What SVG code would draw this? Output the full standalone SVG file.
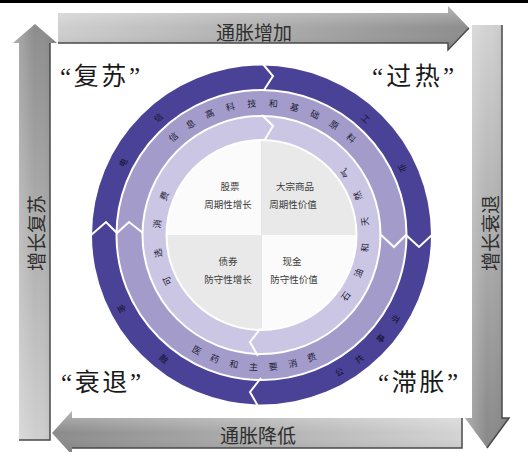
<svg xmlns="http://www.w3.org/2000/svg" width="528" height="452" viewBox="0 0 528 452">
<defs>
<style>
.cjk{font-family:'Noto Sans CJK SC',sans-serif;}
.arrowtxt{font-family:'Noto Sans CJK SC',sans-serif;font-size:19px;fill:#2e2e2e;text-anchor:middle;dominant-baseline:central;}
.corner{font-family:'Liberation Serif','Noto Sans CJK SC',serif;font-size:25px;fill:#1a1a1a;text-anchor:middle;dominant-baseline:central;}
.quad{font-family:'Noto Sans CJK SC',sans-serif;font-size:9.5px;fill:#3a3a3a;text-anchor:middle;}
.rc{font-family:'Noto Sans CJK SC',sans-serif;font-size:9px;fill:#1e1e36;text-anchor:middle;dominant-baseline:central;}
.dc{font-family:'Noto Sans CJK SC',sans-serif;font-size:8.5px;fill:#111128;text-anchor:middle;dominant-baseline:central;}
.brk{fill:none;stroke:#ffffff;stroke-width:2;stroke-linejoin:miter;}
.edge{fill:none;stroke:#4a4a4a;stroke-width:1.5;}
</style>
<linearGradient id="gTop" gradientUnits="userSpaceOnUse" x1="58" y1="0" x2="469" y2="0">
<stop offset="0" stop-color="#cfcfcf"/><stop offset="1" stop-color="#8c8c8c"/>
</linearGradient>
<linearGradient id="gRight" gradientUnits="userSpaceOnUse" x1="0" y1="25" x2="0" y2="448">
<stop offset="0" stop-color="#d2d2d2"/><stop offset="1" stop-color="#888888"/>
</linearGradient>
<linearGradient id="gBottom" gradientUnits="userSpaceOnUse" x1="462" y1="0" x2="52" y2="0">
<stop offset="0" stop-color="#d4d4d4"/><stop offset="1" stop-color="#8a8a8a"/>
</linearGradient>
<linearGradient id="gLeft" gradientUnits="userSpaceOnUse" x1="0" y1="440" x2="0" y2="24">
<stop offset="0" stop-color="#d0d0d0"/><stop offset="1" stop-color="#8c8c8c"/>
</linearGradient>
<linearGradient id="shH" x1="0" y1="0" x2="0" y2="1">
<stop offset="0" stop-color="#ffffff" stop-opacity="0.35"/><stop offset="0.5" stop-color="#ffffff" stop-opacity="0"/><stop offset="1" stop-color="#000000" stop-opacity="0.12"/>
</linearGradient>
<linearGradient id="shV" x1="0" y1="0" x2="1" y2="0">
<stop offset="0" stop-color="#ffffff" stop-opacity="0.3"/><stop offset="0.5" stop-color="#ffffff" stop-opacity="0"/><stop offset="1" stop-color="#000000" stop-opacity="0.12"/>
</linearGradient>
</defs>

<rect x="0" y="0" width="528" height="452" fill="#ffffff"/>
<rect x="0" y="0" width="528" height="3" fill="#000000"/>

<g id="connectors">
<g id="arrow-top">
<path d="M58,13 L448,13 L448,6 L469,28 L448,50 L448,43 L58,43 Z" fill="url(#gTop)"/>
<path d="M58,13 L448,13 L448,6 L469,28 L448,50 L448,43 L58,43 Z" fill="url(#shH)"/>
<polyline class="edge" points="58,43 448,43 448,50 469,28"/>
<text class="arrowtxt" x="254" y="31">通胀增加</text>
</g>
<g id="arrow-right">
<path d="M472,25 L502,25 L502,418 L509,418 L487,448 L465,418 L472,418 Z" fill="url(#gRight)"/>
<path d="M472,25 L502,25 L502,418 L509,418 L487,448 L465,418 L472,418 Z" fill="url(#shV)"/>
<polyline class="edge" points="502,25 502,418 509,418 487,448"/>
<text class="arrowtxt" transform="translate(489,233) rotate(-90)" font-size="20">增长衰退</text>
</g>
<g id="arrow-bottom">
<path d="M462,418 L462,448 L72,448 L72,455 L52,433 L72,411 L72,418 Z" fill="url(#gBottom)"/>
<path d="M462,418 L462,448 L72,448 L72,455 L52,433 L72,411 L72,418 Z" fill="url(#shH)"/>
<polyline class="edge" points="462,418 462,448 72,448"/>
<text class="arrowtxt" x="258" y="434">通胀降低</text>
</g>
<g id="arrow-left">
<path d="M19,440 L19,43 L13,43 L35,24 L57,43 L50,43 L50,440 Z" fill="url(#gLeft)"/>
<path d="M19,440 L19,43 L13,43 L35,24 L57,43 L50,43 L50,440 Z" fill="url(#shV)"/>
<polyline class="edge" points="50,43 50,440 19,440"/>
<text class="arrowtxt" transform="translate(35,233) rotate(-90)" font-size="20">增长复苏</text>
</g>
</g>

<g id="clock">
<circle cx="261.5" cy="235" r="169.5" fill="#4a4296"/>
<circle cx="261.5" cy="235" r="145" fill="#a39ccb" stroke="#ffffff" stroke-width="2"/>
<circle cx="261.5" cy="235" r="119" fill="#cbc6e3" stroke="#ffffff" stroke-width="2"/>
<g id="quadrants">
<path d="M261.5,235 L166.5,235 A95,95 0 0 1 261.5,140 Z" fill="#fbfbfb"/>
<path d="M261.5,235 L261.5,140 A95,95 0 0 1 356.5,235 Z" fill="#e9e9e9"/>
<path d="M261.5,235 L356.5,235 A95,95 0 0 1 261.5,330 Z" fill="#fbfbfb"/>
<path d="M261.5,235 L261.5,330 A95,95 0 0 1 166.5,235 Z" fill="#e9e9e9"/>
<circle cx="261.5" cy="235" r="95" fill="none" stroke="#ffffff" stroke-width="2"/>
</g>
<g id="breaks">
<polyline class="brk" points="262,63 273,76 264,90"/>
<polyline class="brk" points="262,115 273,126 264,141"/>
<polyline class="brk" points="380,234 394,247 406,235 419,247 433,234"/>
<polyline class="brk" points="261,328 250,342 258,356"/>
<polyline class="brk" points="261,378 250,392 258,406"/>
<polyline class="brk" points="90,236 106,222 117,233 129,222 143,233"/>
</g>
</g>

<g id="q-stock">
<text class="quad" x="230" y="190">股票</text>
<text class="quad" x="228" y="208">周期性增长</text>
</g>
<g id="q-commodity">
<text class="quad" x="295" y="190">大宗商品</text>
<text class="quad" x="293" y="208">周期性价值</text>
</g>
<g id="q-bond">
<text class="quad" x="228" y="265">债券</text>
<text class="quad" x="228" y="283">防守性增长</text>
</g>
<g id="q-cash">
<text class="quad" x="292" y="265">现金</text>
<text class="quad" x="294" y="283">防守性价值</text>
</g>

<g id="ring-middle-top">
<text class="rc" transform="translate(173.2,136.9) rotate(-42)">信</text>
<text class="rc" transform="translate(190.4,123.8) rotate(-32.6)">息</text>
<text class="rc" transform="translate(209.6,113.6) rotate(-23.2)">高</text>
<text class="rc" transform="translate(230.2,106.8) rotate(-13.7)">科</text>
<text class="rc" transform="translate(251.6,103.4) rotate(-4.3)">技</text>
<text class="rc" transform="translate(273.2,103.5) rotate(5.1)">和</text>
<text class="rc" transform="translate(294.6,107.2) rotate(14.5)">基</text>
<text class="rc" transform="translate(315.1,114.4) rotate(23.9)">础</text>
<text class="rc" transform="translate(334.1,124.7) rotate(33.4)">原</text>
<text class="rc" transform="translate(351.1,138.1) rotate(42.8)">料</text>
</g>
<g id="ring-middle-bottom">
<text class="rc" transform="translate(196.9,350.1) rotate(29.3)">医</text>
<text class="rc" transform="translate(214.8,358.5) rotate(20.7)">药</text>
<text class="rc" transform="translate(233.8,364.1) rotate(12.1)">和</text>
<text class="rc" transform="translate(253.4,366.8) rotate(3.5)">主</text>
<text class="rc" transform="translate(273.2,366.5) rotate(-5.1)">要</text>
<text class="rc" transform="translate(292.8,363.3) rotate(-13.7)">消</text>
<text class="rc" transform="translate(311.6,357.1) rotate(-22.3)">费</text>
</g>
<g id="ring-inner-right">
<text class="rc" transform="translate(345.1,173.1) rotate(-126.5)">气</text>
<text class="rc" transform="translate(357.9,196) rotate(-112)">然</text>
<text class="rc" transform="translate(364.6,221.4) rotate(-97.5)">天</text>
<text class="rc" transform="translate(364.7,247.7) rotate(-83)">和</text>
<text class="rc" transform="translate(358.3,273.1) rotate(-68.5)">油</text>
<text class="rc" transform="translate(345.6,296.1) rotate(-54)">石</text>
</g>
<g id="ring-inner-left">
<text class="rc" transform="translate(167.1,281) rotate(-116)">可</text>
<text class="rc" transform="translate(158.1,253.2) rotate(-100)">选</text>
<text class="rc" transform="translate(157.1,224) rotate(-84)">消</text>
<text class="rc" transform="translate(164.1,195.7) rotate(-68)">费</text>
</g>
<g id="ring-outer">
<text class="dc" transform="translate(122.4,162.3) rotate(-62.4)">电</text>
<text class="dc" transform="translate(157.9,117) rotate(-41.3)">信</text>
<text class="dc" transform="translate(366.1,118) rotate(41.8)">工</text>
<text class="dc" transform="translate(403.3,167.7) rotate(64.6)">业</text>
<text class="dc" transform="translate(339,371.5) rotate(-29.6)">公</text>
<text class="dc" transform="translate(358.6,358.4) rotate(-38.2)">共</text>
<text class="dc" transform="translate(380,338) rotate(-49)">事</text>
<text class="dc" transform="translate(394.6,318.2) rotate(-58)">业</text>
<text class="dc" transform="translate(122.6,308.2) rotate(62.2)">金</text>
<text class="dc" transform="translate(164.2,358.2) rotate(38.3)">融</text>
</g>

<g id="label-recovery"><text class="corner" x="100" y="76" textLength="80" lengthAdjust="spacing">“复苏”</text></g>
<g id="label-overheat"><text class="corner" x="413" y="76" textLength="82" lengthAdjust="spacing">“过热”</text></g>
<g id="label-recession"><text class="corner" x="101" y="382" textLength="80" lengthAdjust="spacing">“衰退”</text></g>
<g id="label-stagflation"><text class="corner" x="418" y="382" textLength="80" lengthAdjust="spacing">“滞胀”</text></g>
</svg>
